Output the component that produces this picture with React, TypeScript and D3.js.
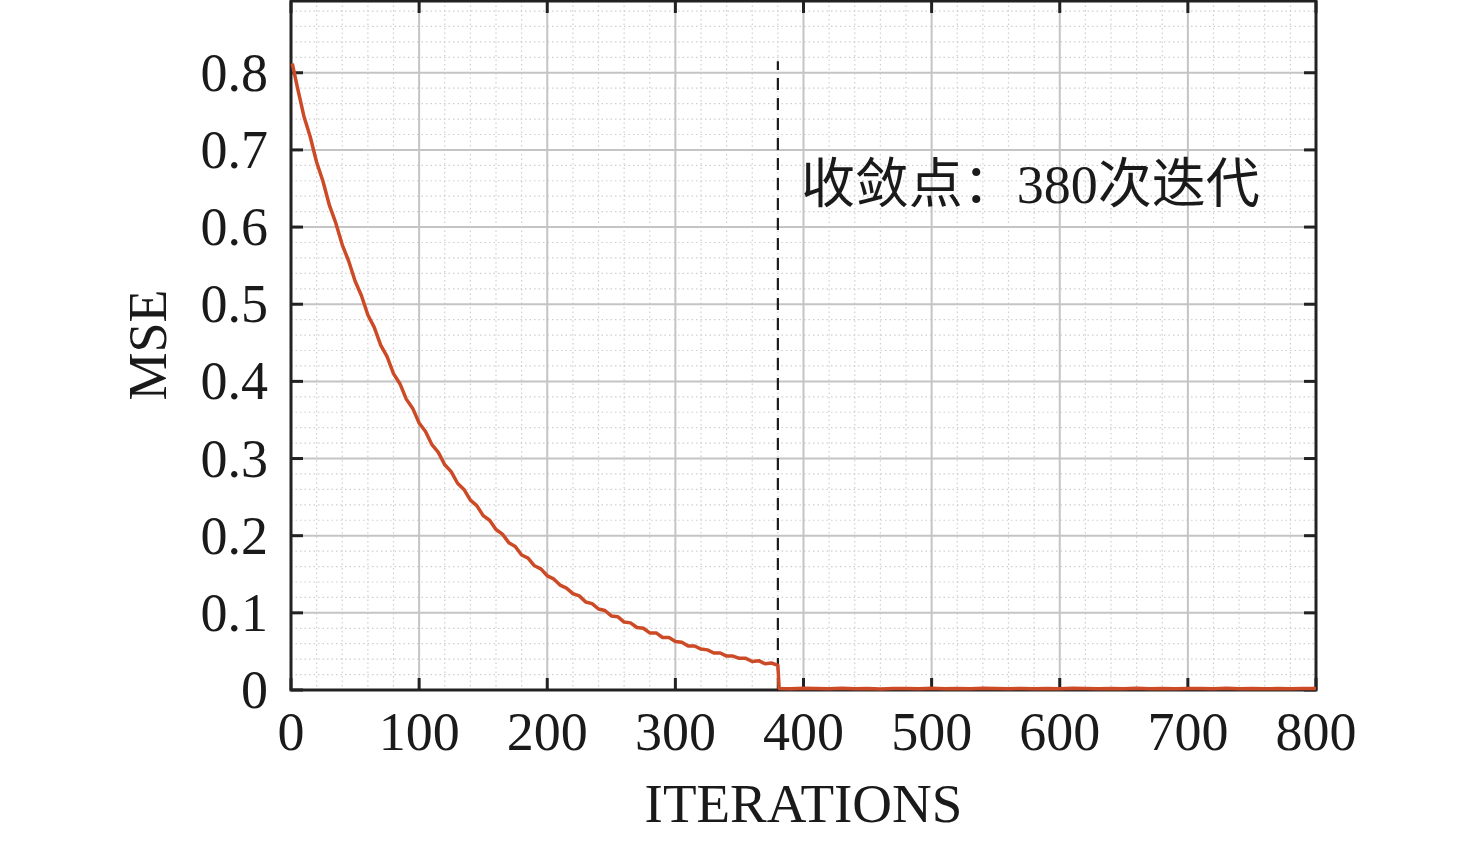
import React from 'react';
import * as d3 from 'd3';

// MSE readings before convergence (every 5 iterations)
const preIterations = [
  1, 5, 10, 15, 20, 25, 30, 35, 40, 45, 50, 55, 60, 65, 70, 75, 80, 85, 90, 95,
  100, 105, 110, 115, 120, 125, 130, 135, 140, 145, 150, 155, 160, 165, 170, 175,
  180, 185, 190, 195, 200, 205, 210, 215, 220, 225, 230, 235, 240, 245, 250, 255,
  260, 265, 270, 275, 280, 285, 290, 295, 300, 305, 310, 315, 320, 325, 330, 335,
  340, 345, 350, 355, 360, 365, 370, 375, 380,
];
const preMse = [
  0.812, 0.781, 0.744, 0.717, 0.684, 0.659, 0.628, 0.605, 0.577, 0.556, 0.53, 0.511,
  0.486, 0.47, 0.447, 0.432, 0.41, 0.397, 0.377, 0.365, 0.346, 0.335, 0.318, 0.308,
  0.292, 0.283, 0.268, 0.26, 0.246, 0.239, 0.226, 0.22, 0.208, 0.202, 0.191, 0.186,
  0.175, 0.171, 0.161, 0.157, 0.148, 0.144, 0.136, 0.132, 0.125, 0.122, 0.114, 0.112,
  0.105, 0.103, 0.096, 0.095, 0.088, 0.087, 0.081, 0.08, 0.074, 0.074, 0.068, 0.068,
  0.063, 0.062, 0.057, 0.057, 0.053, 0.052, 0.048, 0.048, 0.044, 0.044, 0.041, 0.041,
  0.037, 0.038, 0.034, 0.035, 0.032,
];

// after convergence the error sits near zero
const postIterations = [
  381, 390, 400, 410, 420, 430, 440, 450, 460, 470, 480, 490, 500, 510, 520, 530,
  540, 550, 560, 570, 580, 590, 600, 610, 620, 630, 640, 650, 660, 670, 680, 690,
  700, 710, 720, 730, 740, 750, 760, 770, 780, 790, 800,
];
const postMse = [
  0.002, 0.0015, 0.0022, 0.0018, 0.0016, 0.0024, 0.0017, 0.002, 0.0014, 0.0021,
  0.0019, 0.0015, 0.0023, 0.0017, 0.002, 0.0016, 0.0022, 0.0018, 0.0015, 0.0021,
  0.0017, 0.0019, 0.0016, 0.0022, 0.0018, 0.0015, 0.002, 0.0017, 0.0023, 0.0016,
  0.0019, 0.0015, 0.0021, 0.0018, 0.0016, 0.0022, 0.0017, 0.002, 0.0015, 0.0019,
  0.0017, 0.0021, 0.0018,
];

const xTicks = [0, 100, 200, 300, 400, 500, 600, 700, 800];
const yTicks = [0, 0.1, 0.2, 0.3, 0.4, 0.5, 0.6, 0.7, 0.8];
const convergeAt = 380;
const annotation = '收敛点：380次迭代';

export default function App() {
  const width = 1476;
  const height = 841;
  const margin = { top: 1, right: 160, bottom: 151, left: 291 };
  const innerWidth = width - margin.left - margin.right;
  const innerHeight = height - margin.top - margin.bottom;

  const x = d3.scaleLinear().domain([0, 800]).range([0, innerWidth]);
  const y = d3.scaleLinear().domain([0, 0.893]).range([innerHeight, 0]);

  const xMinor = d3.range(0, 801, 20).filter(v => v % 100 !== 0);
  const yMinor = d3.range(0, 89).map(v => v / 100).filter((v, i) => i % 2 === 0 && i % 10 !== 0);

  const points: [number, number][] = [
    ...preIterations.map((it, i) => [it, preMse[i]] as [number, number]),
    ...postIterations.map((it, i) => [it, postMse[i]] as [number, number]),
  ];
  const line = d3.line<[number, number]>()
    .x(d => x(d[0]))
    .y(d => y(d[1]));

  const font = '"Liberation Serif", "Times New Roman", "Noto Sans CJK SC", serif';
  const tickLen = 12;

  return (
    <svg width={width} height={height} style={{ position: 'absolute', left: 0, top: 0, background: '#fff' }}>
      <g transform={`translate(${margin.left},${margin.top})`}>
        {/* minor grid */}
        {xMinor.map(v => (
          <line key={`xm${v}`} x1={x(v)} x2={x(v)} y1={0} y2={innerHeight}
            stroke="#cfcfcf" strokeWidth={1.2} strokeDasharray="1.5 3" />
        ))}
        {yMinor.map(v => (
          <line key={`ym${v}`} x1={0} x2={innerWidth} y1={y(v)} y2={y(v)}
            stroke="#cfcfcf" strokeWidth={1.2} strokeDasharray="1.5 3" />
        ))}
        {/* major grid */}
        {xTicks.slice(1, -1).map(v => (
          <line key={`xg${v}`} x1={x(v)} x2={x(v)} y1={0} y2={innerHeight} stroke="#c4c4c4" strokeWidth={2} />
        ))}
        {yTicks.slice(1).map(v => (
          <line key={`yg${v}`} x1={0} x2={innerWidth} y1={y(v)} y2={y(v)} stroke="#c4c4c4" strokeWidth={2} />
        ))}

        {/* convergence marker */}
        <line x1={x(convergeAt)} x2={x(convergeAt)} y1={y(0)} y2={y(0.815)}
          stroke="#1a1a1a" strokeWidth={2.2} strokeDasharray="12 8" />

        {/* frame */}
        <rect x={0} y={0} width={innerWidth} height={innerHeight} fill="none" stroke="#222" strokeWidth={3} />

        {/* ticks (inward, all four sides) */}
        {xTicks.map(v => (
          <g key={`xt${v}`}>
            <line x1={x(v)} x2={x(v)} y1={innerHeight} y2={innerHeight - tickLen} stroke="#222" strokeWidth={3} />
            <line x1={x(v)} x2={x(v)} y1={0} y2={tickLen} stroke="#222" strokeWidth={3} />
          </g>
        ))}
        {yTicks.map(v => (
          <g key={`yt${v}`}>
            <line x1={0} x2={tickLen} y1={y(v)} y2={y(v)} stroke="#222" strokeWidth={3} />
            <line x1={innerWidth} x2={innerWidth - tickLen} y1={y(v)} y2={y(v)} stroke="#222" strokeWidth={3} />
          </g>
        ))}

        {/* MSE curve, drawn over the frame */}
        <path d={line(points) || ''} fill="none" stroke="#cc4a26" strokeWidth={3.5} strokeLinejoin="round" />

        {/* tick labels */}
        {xTicks.map(v => (
          <text key={`xl${v}`} x={x(v)} y={innerHeight + 60} textAnchor="middle"
            fontFamily={font} fontSize={54} fill="#1a1a1a">{v}</text>
        ))}
        {yTicks.map(v => (
          <text key={`yl${v}`} x={-23} y={y(v) + 18} textAnchor="end"
            fontFamily={font} fontSize={54} fill="#1a1a1a">{v === 0 ? '0' : d3.format('.1f')(v)}</text>
        ))}

        {/* annotation */}
        <text x={x(convergeAt) + 23} y={202} fontFamily={font} fontSize={54} fill="#1a1a1a">{annotation}</text>
      </g>

      {/* axis titles */}
      <text x={margin.left + innerWidth / 2} y={822} textAnchor="middle"
        fontFamily={font} fontSize={55} fill="#1a1a1a">ITERATIONS</text>
      <text transform="translate(166,345) rotate(-90)" textAnchor="middle"
        fontFamily={font} fontSize={54} fill="#1a1a1a">MSE</text>
    </svg>
  );
}
